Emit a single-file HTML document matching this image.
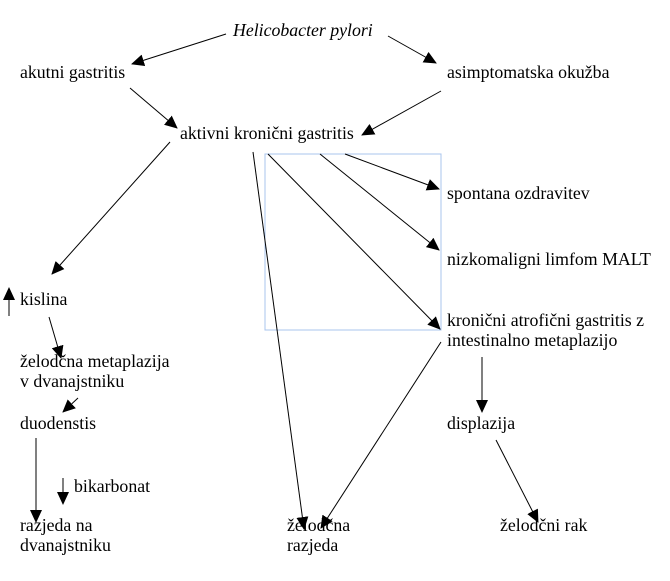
<!DOCTYPE html>
<html><head><meta charset="utf-8"><style>
body{margin:0;background:#fff;}
svg text{font-family:"Liberation Serif",serif;font-size:17.8px;fill:#000;}
</style></head><body>
<svg width="670" height="576" xmlns="http://www.w3.org/2000/svg">
<defs><marker id="a" markerWidth="13" markerHeight="12" refX="12" refY="6" orient="auto" markerUnits="userSpaceOnUse"><path d="M0,0 L13,6 L0,12 z" fill="#000"/></marker></defs>
<rect x="265" y="154" width="176" height="176" fill="none" stroke="#a8c4ee" stroke-width="1"/>
<g stroke="#000" stroke-width="1" marker-end="url(#a)">
<line x1="226" y1="34" x2="132" y2="64"/>
<line x1="388" y1="36" x2="436" y2="63"/>
<line x1="130" y1="88" x2="177" y2="128"/>
<line x1="441" y1="91" x2="362" y2="135"/>
<line x1="170" y1="142" x2="52" y2="274"/>
<line x1="345" y1="154" x2="439" y2="189"/>
<line x1="320" y1="154" x2="439" y2="250"/>
<line x1="268" y1="154" x2="440" y2="329"/>
<line x1="253" y1="152" x2="304" y2="529"/>
<line x1="441" y1="342" x2="321" y2="528"/>
<line x1="482" y1="357" x2="482" y2="412"/>
<line x1="496" y1="440" x2="538" y2="522"/>
<line x1="49" y1="317" x2="61" y2="358"/>
<line x1="78" y1="398" x2="63" y2="412"/>
<line x1="36" y1="438" x2="36" y2="522"/>
<line x1="63" y1="478" x2="63" y2="504"/>
<line x1="9" y1="316" x2="9" y2="288"/>
</g>
<text x="233" y="36" font-style="italic">Helicobacter pylori</text>
<text x="20" y="78">akutni gastritis</text>
<text x="447" y="78">asimptomatska okužba</text>
<text x="180" y="139">aktivni kronični gastritis</text>
<text x="447" y="199">spontana ozdravitev</text>
<text x="447" y="265">nizkomaligni limfom MALT</text>
<text x="447" y="326">kronični atrofični gastritis z</text>
<text x="447" y="346">intestinalno metaplazijo</text>
<text x="20" y="305">kislina</text>
<text x="20" y="367">želodčna metaplazija</text>
<text x="20" y="387">v dvanajstniku</text>
<text x="20" y="429">duodenstis</text>
<text x="447" y="429">displazija</text>
<text x="74" y="492">bikarbonat</text>
<text x="20" y="531">razjeda na</text>
<text x="20" y="551">dvanajstniku</text>
<text x="287" y="531">želodčna</text>
<text x="287" y="551">razjeda</text>
<text x="500" y="531">želodčni rak</text>
</svg>
</body></html>
